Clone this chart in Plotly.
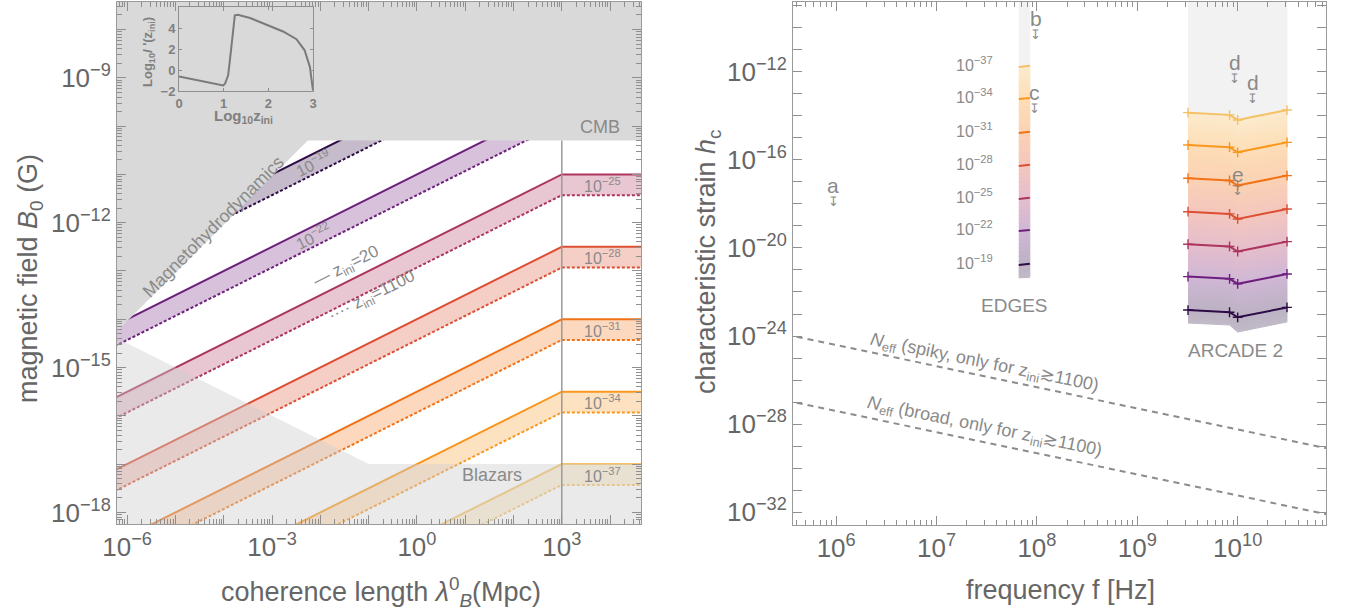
import numpy as np
import plotly.graph_objects as go

FONT = "Liberation Sans, Arial, Helvetica, sans-serif"
TXT = "#666666"
LBL = "#8a8a8a"

# ---------------- left panel data ----------------
level_exps = [-19, -22, -25, -28, -31, -34, -37]
line_colors = ["#2d0c45", "#6e1f7e", "#ad345d", "#dc4f33", "#f27216", "#f9981f", "#f5c165"]
lam_pts = [1e-7, 1e3, 1e5]
solid_logB = [[-13.0, -8.0, -8.0], [-14.5, -9.5, -9.5], [-16.0, -11.0, -11.0], [-17.5, -12.5, -12.5],
              [-19.0, -14.0, -14.0], [-20.5, -15.5, -15.5], [-22.0, -17.0, -17.0]]
dashed_logB = [[-13.43, -8.43, -8.43], [-14.93, -9.93, -9.93], [-16.43, -11.43, -11.43], [-17.93, -12.93, -12.93],
               [-19.43, -14.43, -14.43], [-20.93, -15.93, -15.93], [-22.43, -17.43, -17.43]]
cmb_logB = -10.3
mhd_lam = [1e-7, 10 ** -2.26]
mhd_logB = [-15.04, -10.3]
blazar_lam = [1e-7, 1e-1, 1e5]
blazar_logB = [-14.0, -17.0, -17.0]
horizon_lam = 1e3

inset_logz = [0.0, 0.5, 0.99, 1.03, 1.06, 1.10, 1.14, 1.18, 1.21, 1.25, 1.32, 1.59, 1.96, 2.33, 2.63, 2.81, 2.93, 3.0]
inset_logI = [-0.59, -1.03, -1.46, -1.3, -0.98, -0.49, 0.98, 2.6, 4.23, 5.3, 5.35, 5.04, 4.39, 3.74, 3.0, 1.95, 0.33, -1.95]

# ---------------- right panel data ----------------
edges_f = [6.6e7, 8.5e7]
edges_logh = [[-20.77, -20.72], [-19.23, -19.18], [-17.77, -17.72], [-16.27, -16.22],
              [-14.77, -14.72], [-13.23, -13.18], [-11.77, -11.72]]
edges_bottom_logh = [-21.36, -21.33]
arcade_f = [3.2e9, 8.3e9, 1.0e10, 3.1e10]
arcade_logh = [[-22.82, -22.92, -23.15, -22.70],
               [-21.30, -21.40, -21.63, -21.18],
               [-19.83, -19.93, -20.16, -19.71],
               [-18.35, -18.45, -18.68, -18.23],
               [-16.83, -16.93, -17.16, -16.71],
               [-15.32, -15.42, -15.65, -15.20],
               [-13.85, -13.95, -14.18, -13.73]]
arcade_bottom_logh = [-23.41, -23.50, -23.82, -23.36]
neff_f = [10 ** 5.5, 10 ** 11]
neff_spiky_logh = [-23.93, -29.21]
neff_broad_logh = [-26.93, -32.21]
letters = ["a", "b", "c", "d", "d", "e"]
letter_logf = [5.97, 7.99, 7.98, 9.97, 10.15, 10.0]
letter_logh = [-17.14, -9.55, -12.95, -11.59, -12.5, -16.68]

LX = [-6.21, 4.64]
LY = [-18.24, -7.43]
RX = [5.57, 10.88]
RY = [-32.59, -8.82]


def hex2rgb(h):
    h = h.lstrip("#")
    return tuple(int(h[i:i + 2], 16) for i in (0, 2, 4))


def rgba(h, a):
    r, g, b = hex2rgb(h)
    return f"rgba({r},{g},{b},{a})"


def blend(h, a):
    r, g, b = hex2rgb(h)
    return tuple(255 * (1 - a) + c * a for c in (r, g, b))


def mix(c1, c2, t):
    return tuple(c1[k] + (c2[k] - c1[k]) * t for k in range(3))


def rgbstr(c):
    return "rgb(%d,%d,%d)" % tuple(int(round(v)) for v in c)


def sup(e):
    return "10<sup>%s</sup>" % (("−%d" % -e) if e < 0 else "%d" % e)


fig = go.Figure()
common = dict(showlegend=False, hoverinfo="skip")

# ---- left: bands ----
for i, e in enumerate(level_exps):
    c = line_colors[i]
    fig.add_trace(go.Scatter(x=lam_pts, y=[10 ** v for v in dashed_logB[i]], mode="lines",
                             line=dict(color=c, width=2, dash="3px,2px"), xaxis="x", yaxis="y", **common))
    fig.add_trace(go.Scatter(x=lam_pts, y=[10 ** v for v in solid_logB[i]], mode="lines",
                             line=dict(color=c, width=2), fill="tonexty", fillcolor=rgba(c, 0.28),
                             xaxis="x", yaxis="y", **common))

# blazar (light, translucent) region
fig.add_trace(go.Scatter(x=blazar_lam + [blazar_lam[-1], blazar_lam[0]],
                         y=[10 ** v for v in blazar_logB] + [1e-20, 1e-20],
                         mode="lines", fill="toself", fillcolor="rgba(205,205,205,0.42)",
                         line=dict(width=0), xaxis="x", yaxis="y", **common))
# CMB + MHD region
fig.add_trace(go.Scatter(x=[mhd_lam[0], mhd_lam[1], 1e5, 1e5, mhd_lam[0]],
                         y=[10 ** mhd_logB[0], 10 ** mhd_logB[1], 10 ** cmb_logB, 1e-6, 1e-6],
                         mode="lines", fill="toself", fillcolor="#d9d9d9",
                         line=dict(width=0), xaxis="x", yaxis="y", **common))
# horizon line
fig.add_trace(go.Scatter(x=[horizon_lam, horizon_lam], y=[1e-20, 10 ** cmb_logB], mode="lines",
                         line=dict(color="#9a9a9a", width=1.5), xaxis="x", yaxis="y", **common))

# inset
fig.add_trace(go.Scatter(x=inset_logz, y=inset_logI, mode="lines", line=dict(color="#7a7a7a", width=2),
                         xaxis="x3", yaxis="y3", **common))

# ---- right panel: columns with gradient ----
top_gray = (242, 242, 242)
bottom_gray = (192, 186, 198)


def column(fx, levels_top_to_bottom, bottom, colors_top_to_bottom, nsub=8):
    bounds = levels_top_to_bottom + [bottom]
    cols = colors_top_to_bottom + [bottom_gray]
    fig.add_trace(go.Scatter(x=fx + fx[::-1], y=[10 ** v for v in bounds[0]] + [1e-7] * len(fx),
                             mode="lines", fill="toself", fillcolor=rgbstr(top_gray),
                             line=dict(width=1, color=rgbstr(top_gray)), xaxis="x2", yaxis="y2", **common))
    for j in range(len(bounds) - 1):
        a, b = bounds[j], bounds[j + 1]
        for s in range(nsub):
            t0, t1 = s / nsub, (s + 1) / nsub
            up = [a[k] + (b[k] - a[k]) * t0 for k in range(len(fx))]
            lo = [a[k] + (b[k] - a[k]) * t1 for k in range(len(fx))]
            col = rgbstr(mix(cols[j], cols[j + 1], (t0 + t1) / 2))
            fig.add_trace(go.Scatter(x=fx + fx[::-1], y=[10 ** v for v in up] + [10 ** v for v in lo[::-1]],
                                     mode="lines", fill="toself", fillcolor=col,
                                     line=dict(width=1, color=col), xaxis="x2", yaxis="y2", **common))


fill_cols = [blend(c, 0.32) for c in line_colors]
column(edges_f, edges_logh[::-1], edges_bottom_logh, fill_cols[::-1])
column(arcade_f, arcade_logh[::-1], arcade_bottom_logh, fill_cols[::-1])

for i, e in enumerate(level_exps):
    c = line_colors[i]
    fig.add_trace(go.Scatter(x=edges_f, y=[10 ** v for v in edges_logh[i]], mode="lines",
                             line=dict(color=c, width=2), xaxis="x2", yaxis="y2", **common))
    fig.add_trace(go.Scatter(x=arcade_f, y=[10 ** v for v in arcade_logh[i]], mode="lines+markers",
                             line=dict(color=c, width=2),
                             marker=dict(symbol="cross-thin", size=7, line=dict(width=1.4, color=c)),
                             xaxis="x2", yaxis="y2", **common))

for hh in (neff_spiky_logh, neff_broad_logh):
    fig.add_trace(go.Scatter(x=neff_f, y=[10 ** v for v in hh], mode="lines",
                             line=dict(color="#8c8c8c", width=2, dash="6px,5px"),
                             xaxis="x2", yaxis="y2", **common))

# ---------------- annotations ----------------
ann = []


def A(x, y, text, xref, yref, size, angle=0, color=LBL, **kw):
    d = dict(x=x, y=y, text=text, xref=xref, yref=yref, showarrow=False, textangle=angle,
             font=dict(family=FONT, size=size, color=color), xanchor="center", yanchor="middle")
    d.update(kw)
    ann.append(d)


A(3.79, -10.02, "CMB", "x", "y", 18)
A(1.56, -17.23, "Blazars", "x", "y", 18)
A(-4.22, -12.09, "Magnetohydrodynamics", "x", "y", 18, -45)
A(-2.15, -10.77, sup(-19), "x", "y", 16, -26.57)
A(-2.15, -12.28, sup(-22), "x", "y", 16, -26.57)
A(-1.45, -12.92, "— z<sub>ini</sub>=20", "x", "y", 17, -26.57)
A(-0.93, -13.54, "···· z<sub>ini</sub>=1100", "x", "y", 17, -26.57)
for i, e in enumerate(level_exps[2:], start=2):
    A(3.85, solid_logB[i][2] - 0.215, sup(e), "x", "y", 16)

for i, e in enumerate(level_exps):
    A(7.38, edges_logh[i][0] + 0.15, sup(e), "x2", "y2", 16)
A(7.78, -22.6, "EDGES", "x2", "y2", 19)
A(9.98, -24.64, "ARCADE 2", "x2", "y2", 19)
A(7.48, -25.23, "<i>N</i><sub>eff</sub> (spiky, only for z<sub>ini</sub>≳1100)", "x2", "y2", 18, 11.6)
A(7.48, -28.14, "<i>N</i><sub>eff</sub> (broad, only for z<sub>ini</sub>≳1100)", "x2", "y2", 18, 11.6)
for t, lf, lh in zip(letters, letter_logf, letter_logh):
    A(lf, lh, t, "x2", "y2", 21)
    A(lf, lh, "↧", "x2", "y2", 13, yshift=-16)

# axis titles
A(30 / 1348, 1 - 279 / 613, "magnetic field <i>B</i><sub>0</sub> (G)", "paper", "paper", 27, -90, TXT)
A(381 / 1348, 1 - 592 / 613, "coherence length <i>λ</i><sup>0</sup><sub><i>B</i></sub>(Mpc)", "paper", "paper", 27, 0, TXT)
A(708 / 1348, 1 - 262 / 613, "characteristic strain <i>h</i><sub>c</sub>", "paper", "paper", 27, -90, TXT)
A(1060 / 1348, 1 - 590 / 613, "frequency f [Hz]", "paper", "paper", 27, 0, TXT)
A(243 / 1348, 1 - 116 / 613, "<b>Log<sub>10</sub>z<sub>ini</sub></b>", "paper", "paper", 15, 0, "#808080")
A(148 / 1348, 1 - 52 / 613, "<b>Log<sub>10</sub><i>I</i> '(z<sub>ini</sub>)</b>", "paper", "paper", 13, -90, "#808080")


def log_axis(rng, domain, anchor, first, last, label_exps, minor=True):
    exps = list(range(first, last + 1))
    d = dict(type="log", range=rng, domain=domain, anchor=anchor, automargin=False,
             tickvals=[10.0 ** e for e in exps],
             ticktext=[sup(e) if e in label_exps else "" for e in exps],
             ticks="inside", ticklen=9, tickwidth=1, tickcolor="#8f8f8f",
             showline=True, linecolor="#9a9a9a", linewidth=1, mirror="ticks",
             showgrid=False, zeroline=False,
             tickfont=dict(family=FONT, size=26, color=TXT))
    if minor:
        d["minor"] = dict(tickvals=[m * 10.0 ** e for e in range(first - 1, last + 1) for m in range(2, 10)],
                          ticks="inside", ticklen=5, tickcolor="#8f8f8f", showgrid=False)
    return d


inset_font = dict(family=FONT, size=13, color="#808080", weight="bold")
fig.update_layout(
    width=1348, height=613, margin=dict(l=0, r=0, t=0, b=0), autosize=False,
    paper_bgcolor="white", plot_bgcolor="rgba(0,0,0,0)", showlegend=False,
    xaxis=log_axis(LX, [117 / 1348, 641 / 1348], "y", -7, 5, [-6, -3, 0, 3]),
    yaxis=log_axis(LY, [1 - 524 / 613, 1 - 2 / 613], "x", -19, -7, [-18, -15, -12, -9]),
    xaxis2=log_axis(RX, [793 / 1348, 1326 / 1348], "y2", 5, 11, [6, 7, 8, 9, 10]),
    yaxis2=log_axis(RY, [1 - 525 / 613, 1 - 2 / 613], "x2", -33, -8, [-32, -28, -24, -20, -16, -12], minor=False),
    xaxis3=dict(range=[0, 3], domain=[179 / 1348, 313 / 1348], anchor="y3", tickvals=[0, 1, 2, 3],
                ticks="inside", ticklen=3, tickcolor="#8f8f8f", showline=True, linecolor="#8f8f8f",
                mirror="ticks", showgrid=False, zeroline=False, automargin=False, tickfont=inset_font),
    yaxis3=dict(range=[-2, 6.1], domain=[1 - 91 / 613, 1 - 7 / 613], anchor="x3", tickvals=[-2, 0, 2, 4],
                ticks="inside", ticklen=3, tickcolor="#8f8f8f", showline=True, linecolor="#8f8f8f",
                mirror="ticks", showgrid=False, zeroline=False, automargin=False, tickfont=inset_font),
    annotations=ann,
)

fig.write_html("out.html", config={"displayModeBar": False, "staticPlot": True},
               post_script="document.body.style.margin='0';")
